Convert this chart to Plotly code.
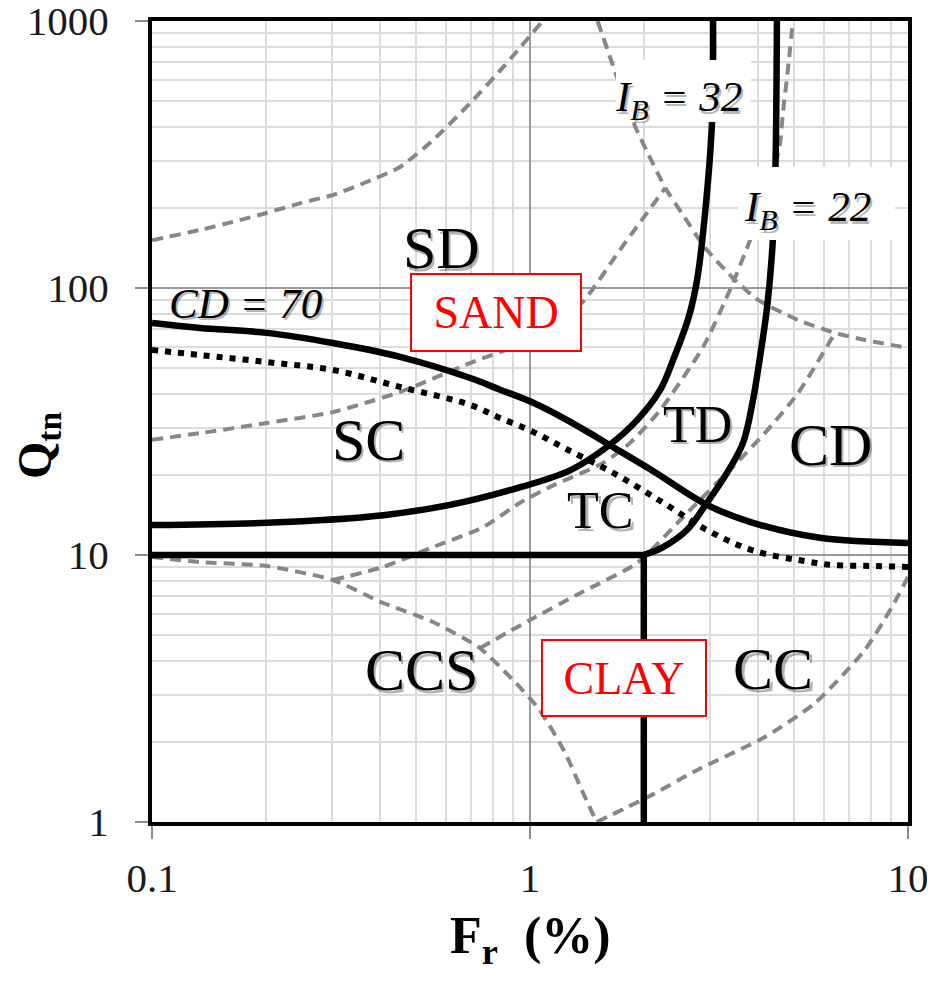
import plotly.graph_objects as go

# ---------------- data ----------------
# CD = 70 boundary (solid)
CD70_F = [0.1, 0.134, 0.201, 0.301, 0.453, 0.695, 0.83, 1.01, 1.24, 1.44, 1.61, 2.12, 2.94, 3.89, 5.85, 10]
CD70_Q = [73.9, 70.8, 67.9, 62.2, 55.2, 46.0, 41.7, 37.4, 32.3, 28.6, 26.0, 20.6, 15.4, 13.2, 11.6, 11.1]

# dotted boundary (below CD = 70)
DOT_F = [0.1, 0.134, 0.201, 0.301, 0.453, 0.695, 0.82, 1.01, 1.25, 1.66, 2.25, 2.94, 3.89, 5.5, 6.3, 7.93, 10]
DOT_Q = [58.6, 56.1, 52.8, 49.3, 42.6, 36.5, 32.9, 29.1, 24.9, 20.3, 15.7, 12.4, 10.4, 9.42, 9.17, 9.1, 9.02]

# I_B = 32 boundary (solid)
IB32_F = [0.1, 0.201, 0.409, 0.614, 0.924, 1.28, 1.61, 1.92, 2.21, 2.39, 2.63, 2.76, 2.87, 3.03, 3.05, 3.05]
IB32_Q = [12.95, 13.2, 14.1, 15.4, 17.8, 20.8, 25.6, 32.0, 41.5, 53.7, 77.9, 105, 161, 415, 714, 1000]

# I_B = 22 boundary (solid)
IB22_F = [2.0, 2.25, 2.60, 2.94, 3.32, 3.66, 3.89, 4.06, 4.24, 4.39, 4.46, 4.50]
IB22_Q = [10.0, 10.7, 12.4, 15.7, 20.3, 26.3, 38.1, 55.2, 84.9, 151, 284, 1000]

# Q = 10 / Fr = 2 boundary (solid)
BOX_F = [0.1, 2.0, 2.0]
BOX_Q = [10, 10, 1]

# grey dashed zone boundaries
DA_F = [0.1, 0.134, 0.164, 0.201, 0.247, 0.301, 0.371, 0.453, 0.554, 0.695, 0.859, 1.08]
DA_Q = [151, 165, 177, 191, 208, 223, 250, 284, 358, 493, 684, 1000]

DB1_F = [0.1, 0.134, 0.201, 0.301, 0.453, 0.695, 1.0, 1.37, 1.73, 2.28]
DB1_Q = [27.0, 28.6, 31.2, 34.3, 40.8, 52.4, 63.9, 87.9, 139, 237]

DB2_F = [1.51, 1.68, 1.90, 2.05, 2.28, 2.52, 2.90, 3.42, 4.01, 5.12, 6.41, 7.69, 10]
DB2_Q = [1000, 644, 401, 320, 237, 191, 142, 110, 90.2, 75.9, 67.9, 63.9, 59.6]

DC_F = [0.1, 0.134, 0.201, 0.301, 0.409, 0.554, 0.737, 0.902, 1.06, 1.24, 1.37, 1.50]
DC_Q = [9.83, 9.41, 9.09, 8.06, 6.61, 5.61, 4.48, 3.40, 2.63, 1.81, 1.32, 1.0]

DD_F = [0.301, 0.409, 0.544, 0.751, 0.941, 1.13, 1.56, 1.84, 2.21, 2.87, 3.38, 3.82, 4.31, 4.58, 4.67, 4.81, 4.96]
DD_Q = [8.06, 9.02, 10.6, 12.7, 15.7, 18.0, 22.1, 26.3, 34.9, 60.1, 98.3, 151, 243, 343, 456, 655, 1000]

DF_F = [0.737, 1.0, 1.36, 1.92, 2.57, 3.44, 4.18, 5.12, 6.41]
DF_Q = [4.48, 5.71, 7.21, 9.33, 14.1, 21.4, 28.6, 40.4, 67.9]

DG_F = [1.50, 2.05, 2.78, 4.18, 5.68, 7.69, 9.07, 10]
DG_Q = [1.0, 1.24, 1.57, 2.08, 2.79, 4.41, 6.39, 8.27]

X_TICKS = [0.1, 1, 10]
X_TICK_TEXT = ["0.1", "1", "10"]
Y_TICKS = [1, 10, 100, 1000]
Y_TICK_TEXT = ["1", "10", "100", "1000"]

# ---------------- figure ----------------
fig = go.Figure()

GREY = "#878787"
def add(xs, ys, color, width, dash="solid", shape="spline", smoothing=1.0):
    fig.add_trace(go.Scatter(x=xs, y=ys, mode="lines",
                             line=dict(color=color, width=width, dash=dash,
                                       shape=shape, smoothing=smoothing),
                             hoverinfo="skip", showlegend=False))

for xs, ys in [(DA_F, DA_Q), (DB1_F, DB1_Q), (DB2_F, DB2_Q), (DC_F, DC_Q),
               (DD_F, DD_Q), (DF_F, DF_Q), (DG_F, DG_Q)]:
    add(xs, ys, GREY, 4, dash="11px,7px", smoothing=0.6)

add(DOT_F, DOT_Q, "black", 6, dash="6px,7px")
add(CD70_F, CD70_Q, "black", 6.5)
add(IB32_F, IB32_Q, "black", 6.5)
add(IB22_F, IB22_Q, "black", 6.5)
add(BOX_F, BOX_Q, "black", 6.5, shape="linear")

SERIF = "Liberation Serif"

axis_common = dict(type="log", showgrid=True, gridcolor="#9a9a9a", gridwidth=1.5,
                   minor=dict(dtick="D1", showgrid=True, gridcolor="#dcdcdc", gridwidth=1.5, ticks=""),
                   showline=True, linecolor="black", linewidth=4, mirror=True,
                   ticks="outside", ticklen=13, tickcolor="#8c8c8c", tickwidth=1.5,
                   ticklabeloverflow="allow",
                   tickfont=dict(family=SERIF, size=41, color="#1a1a1a"), zeroline=False)
fig.update_xaxes(range=[-1, 1], tickvals=X_TICKS, ticktext=X_TICK_TEXT,
                 ticklabelstandoff=4, **axis_common)
fig.update_yaxes(range=[0, 3], tickvals=Y_TICKS, ticktext=Y_TICK_TEXT,
                 ticklabelstandoff=18, **axis_common)

# page body has an 8px margin; the figure is sized to fit inside the window
OFF = 8
WIN_W, WIN_H = 935, 981
W, H = WIN_W - 2 * OFF, WIN_H - 2 * OFF
PLOT_L, PLOT_R, PLOT_T, PLOT_B = 152, 908, 21, 822      # plot area in window pixels
L, T = PLOT_L - OFF, PLOT_T - OFF
R, B = W - (PLOT_R - OFF), H - (PLOT_B - OFF)
PW, PH = PLOT_R - PLOT_L, PLOT_B - PLOT_T

def px(x, y):
    return (x - PLOT_L) / PW, (PLOT_B - y) / PH

annos = []

def base(xp, yp, **kw):
    d = dict(x=xp, y=yp, xref="paper", yref="paper", showarrow=False,
             xanchor="center", yanchor="middle")
    d.update(kw)
    return d

def label(text, x, y, size, shadow=True):
    xp, yp = px(x, y)
    if shadow:
        annos.append(base(xp, yp, text=text, xshift=2.5, yshift=-2.5,
                          font=dict(family=SERIF, size=size, color="rgba(0,0,0,0.3)")))
    annos.append(base(xp, yp, text=text, font=dict(family=SERIF, size=size, color="black")))

def whitebox(x, y, w, h):
    xp, yp = px(x, y)
    annos.append(base(xp, yp, text=" ", width=w, height=h, bgcolor="white",
                      borderpad=0, borderwidth=0))

label("SD", 441, 248, 60)
label("SC", 368, 440, 60)
label("<i>CD = 70</i>", 245, 303, 43)
label("TD", 697, 424, 52)
label("TC", 600, 511, 52)
label("CD", 830, 445, 60)
label("CCS", 421, 670, 60)
label("CC", 773, 669, 60)

whitebox(683, 91, 135, 62)
label("<i>I<sub>B</sub> = 32</i>", 678, 100, 43)
whitebox(816, 203, 157, 73)
label("<i>I<sub>B</sub> = 22</i>", 807, 210, 43)

for txt, cx, cy, w, h in [("SAND", 496, 312, 168, 75), ("CLAY", 624, 678, 162, 74)]:
    xp, yp = px(cx, cy)
    annos.append(base(xp, yp, text=txt, width=w, height=h, bgcolor="white",
                      bordercolor="red", borderwidth=2, borderpad=0,
                      font=dict(family=SERIF, size=46, color="red")))

# axis titles
xp, yp = px(38, 445)
annos.append(base(xp, yp, text="<b>Q<sub>tn</sub></b>", textangle=-90,
                  font=dict(family=SERIF, size=48, color="black")))
xp, yp = px(530, 940)
annos.append(base(xp, yp, text="<b>F<sub>r</sub>&nbsp; (%)</b>",
                  font=dict(family=SERIF, size=52, color="black")))

fig.update_layout(width=W, height=H, margin=dict(l=L, r=R, t=T, b=B, autoexpand=False),
                  plot_bgcolor="white", paper_bgcolor="white", annotations=annos)

fig.write_html("out.html")
